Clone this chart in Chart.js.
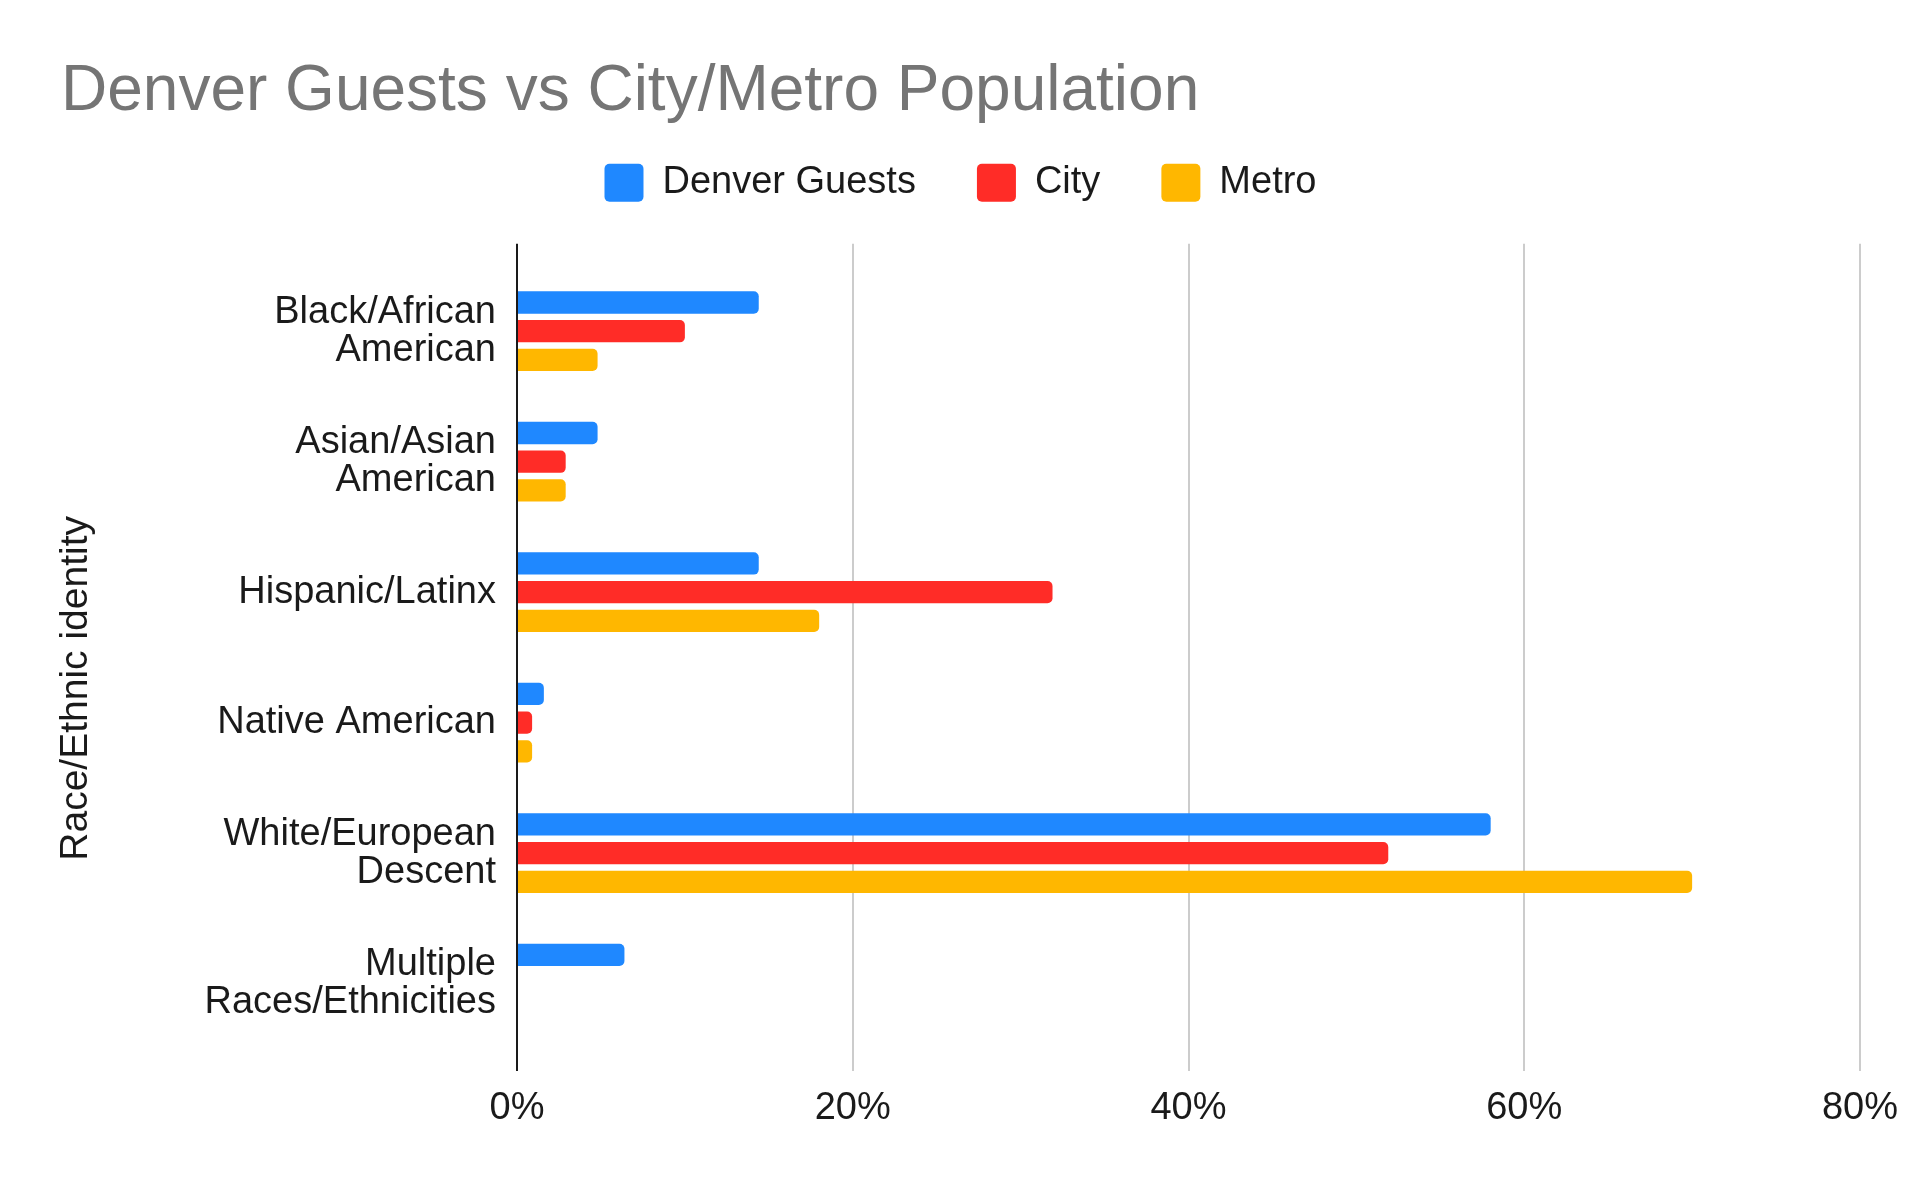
<!DOCTYPE html>
<html>
<head>
<meta charset="utf-8">
<script src="https://cdn.jsdelivr.net/npm/chart.js@4/dist/chart.umd.min.js"></script>
<style>
  html, body { margin: 0; padding: 0; background: #ffffff; }
  #wrap { width: 1920px; height: 1187px; position: relative; }
</style>
</head>
<body>
<div id="wrap"><canvas id="c"></canvas></div>
<script>
// ---- data ----
const categories = [
  ['Black/African', 'American'],
  ['Asian/Asian', 'American'],
  'Hispanic/Latinx',
  'Native American',
  ['White/European', 'Descent'],
  ['Multiple', 'Races/Ethnicities']
];
const seriesNames = ['Denver Guests', 'City', 'Metro'];
const denverGuests = [14.4, 4.8, 14.4, 1.6, 58.0, 6.4];
const city         = [10.0, 2.9, 31.9, 0.9, 51.9, null];
const metro        = [4.8, 2.9, 18.0, 0.9, 70.0, null];
const xTicks = [0, 20, 40, 60, 80];
const colors = ['#1F88FF', '#FF2C27', '#FFB700'];

const FONT = "'Liberation Sans', Arial, Helvetica, sans-serif";
Chart.defaults.font.family = FONT;
Chart.defaults.color = '#1a1a1a';

const categoryIndex = categories.map((_, i) => i);
const seriesValues = [denverGuests, city, metro];

// extra gap between legend and plot area
const legendSpacer = {
  id: 'legendSpacer',
  beforeLayout(chart) {
    const lg = chart.legend;
    if (lg && !lg._spaced) {
      lg._spaced = true;
      const origFit = lg.fit;
      lg.fit = function () { origFit.call(this); this.height += 32; };
    }
  }
};

const hiddenAxis = (extra) => Object.assign({
  type: 'linear',
  position: 'left',
  display: true,
  stack: 'leftTitle',
  grid: { display: false, drawTicks: false },
  border: { display: false },
  ticks: { display: false },
  afterFit(scale) { scale.width = 60; }
}, extra);

new Chart(document.getElementById('c'), {
  type: 'bar',
  data: {
    labels: categoryIndex,
    datasets: seriesNames.map((name, k) => ({
      label: name,
      data: seriesValues[k],
      backgroundColor: colors[k],
      borderColor: colors[k],
      borderWidth: 0,
      borderRadius: 5,
      borderSkipped: 'start',
      categoryPercentage: 0.66,
      barPercentage: 0.777,
      xAxisID: 'x',
      yAxisID: 'y'
    }))
  },
  options: {
    indexAxis: 'y',
    responsive: true,
    maintainAspectRatio: false,
    devicePixelRatio: 1,
    animation: false,
    layout: { padding: { left: 61, right: 60, top: 0, bottom: 0 } },
    plugins: {
      tooltip: { enabled: false },
      title: {
        display: true,
        text: 'Denver Guests vs City/Metro Population',
        align: 'start',
        color: '#757575',
        font: { size: 64, weight: 'normal', family: FONT },
        padding: { top: 54, bottom: -28 }
      },
      legend: {
        display: true,
        position: 'top',
        align: 'center',
        labels: {
          boxWidth: 39,
          boxHeight: 38,
          padding: 61,
          color: '#1a1a1a',
          font: { size: 38, family: FONT },
          useBorderRadius: true,
          borderRadius: 5
        }
      }
    },
    scales: {
      x: {
        type: 'linear',
        position: 'bottom',
        min: xTicks[0],
        max: xTicks[xTicks.length - 1],
        afterBuildTicks(scale) { scale.ticks = xTicks.map(v => ({ value: v })); },
        afterFit(scale) { scale.height = 116; },
        grid: {
          drawTicks: false,
          lineWidth: 2,
          color: (ctx) => (ctx.tick && ctx.tick.value === 0 ? '#1a1a1a' : '#cccccc')
        },
        border: { display: false },
        ticks: {
          padding: 15,
          color: '#1a1a1a',
          font: { size: 38, family: FONT },
          callback: (v) => v + '%'
        }
      },
      y: {
        type: 'linear',
        position: 'left',
        weight: 0,
        offset: false,
        reverse: true,
        min: -0.67,
        max: categories.length - 1 + 0.67,
        afterBuildTicks(scale) { scale.ticks = categoryIndex.map(v => ({ value: v })); },
        afterFit(scale) { scale.width = 396; },
        grid: { display: false, drawTicks: false },
        border: { display: false },
        ticks: {
          padding: 21,
          autoSkip: false,
          color: '#1a1a1a',
          font: { size: 38, lineHeight: 1.0, family: FONT },
          callback: (v) => categories[v]
        }
      },
      yGap: hiddenAxis({ weight: 2, stackWeight: 62 }),
      yTitle: hiddenAxis({
        weight: 1,
        stackWeight: 766,
        title: {
          display: true,
          text: 'Race/Ethnic identity',
          color: '#1a1a1a',
          font: { size: 39, family: FONT },
          padding: { top: -8, bottom: 0 }
        }
      })
    }
  },
  plugins: [legendSpacer]
});
</script>
</body>
</html>
